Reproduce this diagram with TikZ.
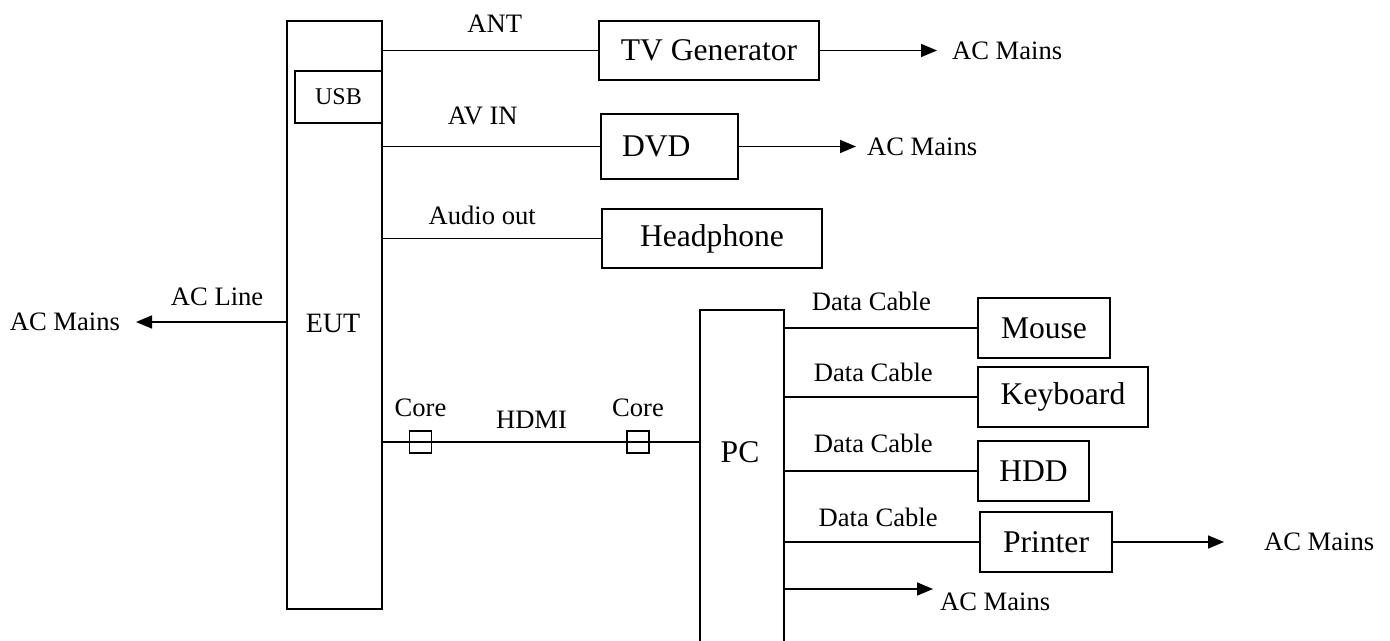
\documentclass[tikz,border=0pt]{standalone}
\usepackage{fontspec}
\setmainfont{Liberation Serif}
\usetikzlibrary{arrows.meta, positioning}
\newcommand{\lblfont}{\fontsize{13.3}{16}\selectfont}
\newcommand{\boxfont}{\fontsize{15.8}{19}\selectfont}

\begin{document}
\begin{tikzpicture}[x=0.5pt, y=-0.5pt,
    box/.style={draw, line width=0.8pt, inner sep=0pt, align=center, font=\boxfont},
    port/.style={draw, line width=0.8pt, minimum size=11pt, inner sep=0pt},
    wire/.style={line width=0.8pt},
    arr/.style={-{Triangle[length=8pt, width=6.5pt]}, line width=0.8pt},
    lbl/.style={font=\lblfont}
]
    \clip (0,0) rectangle (1390,641);

    % EUT with its USB port
    \node[box, minimum width=47.5pt, minimum height=294pt] (eut) at (334.5,315) {};
    \node[font=\fontsize{14}{17}\selectfont] (eutlbl) at (333,323) {EUT};
    \node[box, minimum width=43.5pt, minimum height=26pt,
          font=\fontsize{12}{14}\selectfont] (usb) at (338.5,97) {USB};

    % Devices on the EUT side
    \node[box, minimum width=110pt, minimum height=29.5pt] (tv) at (709,50.5) {TV Generator};
    \node[box, minimum width=68.5pt, minimum height=32.5pt, text width=47.5pt,
          align=left, inner xsep=10.5pt] (dvd) at (669.5,146.5) {DVD};
    \node[box, minimum width=110pt, minimum height=29.5pt] (hp) at (712,238.5) {Headphone};

    % PC and its peripherals
    \node[box, minimum width=42pt, minimum height=185pt] (pc) at (742,495) {};
    \node[font=\boxfont] (pclbl) at (740,452) {PC};
    \node[box, minimum width=66pt, minimum height=30pt] (mouse) at (1044,328) {Mouse};
    \node[box, minimum width=85pt, minimum height=30pt] (kbd) at (1063,397) {Keyboard};
    \node[box, minimum width=55.5pt, minimum height=30pt] (hdd) at (1033.5,471) {HDD};
    \node[box, minimum width=66pt, minimum height=30pt] (prn) at (1046,542) {Printer};

    % Cores on the HDMI cable
    \node[port] (core1) at (420.5,442) {};
    \node[port] (core2) at (638,442) {};
    \node[lbl, above=3.3pt of core1] (core1lbl) {Core};
    \node[lbl, above=3.3pt of core2] (core2lbl) {Core};

    % Free ends towards the mains
    \coordinate (acl) at (136,322);
    \coordinate (tvend) at (937,50.5);
    \coordinate (dvdend) at (856,146.5);
    \coordinate (prnend) at (1224,542);
    \coordinate (pcend) at (933,589);

    \node[lbl, left=4.5pt of acl] (mainsl) {AC Mains};
    \node[lbl, right=4pt of tvend] (mainstv) {AC Mains};
    \node[lbl, right=2pt of dvdend] (mainsdvd) {AC Mains};
    \node[lbl, right=16.5pt of prnend] (mainsprn) {AC Mains};
    \node[lbl, anchor=west] (mainspc) at (933,602) {AC Mains};

    % EUT connections
    \draw[wire] (eut.east |- tv.west) -- node[lbl, above=5.5pt, pos=0.52] {ANT} (tv.west);
    \draw[wire] (eut.east |- dvd.west) -- node[lbl, above=7pt, pos=0.46] {AV IN} (dvd.west);
    \draw[wire] (eut.east |- hp.west) -- node[lbl, above=3pt, pos=0.455] {Audio out} (hp.west);
    \draw[arr] (eut.west |- acl) -- node[lbl, above=4.6pt, pos=0.46] {AC Line} (acl);
    \draw[wire] (eut.east |- core1) -- node[lbl, above=2.8pt, pos=0.47] {HDMI} (pc.west |- core1);

    \draw[arr] (tv.east) -- (tvend);
    \draw[arr] (dvd.east) -- (dvdend);

    % PC connections
    \draw[wire] (pc.east |- mouse.west) -- node[lbl, above=5pt, pos=0.45] {Data Cable} (mouse.west);
    \draw[wire] (pc.east |- kbd.west) -- node[lbl, above=4pt, pos=0.46] {Data Cable} (kbd.west);
    \draw[wire] (pc.east |- hdd.west) -- node[lbl, above=5.5pt, pos=0.46] {Data Cable} (hdd.west);
    \draw[wire] (pc.east |- prn.west) -- node[lbl, above=4pt, pos=0.48] {Data Cable} (prn.west);
    \draw[arr] (prn.east) -- (prnend);
    \draw[arr] (pc.east |- pcend) -- (pcend);
\end{tikzpicture}
\end{document}
